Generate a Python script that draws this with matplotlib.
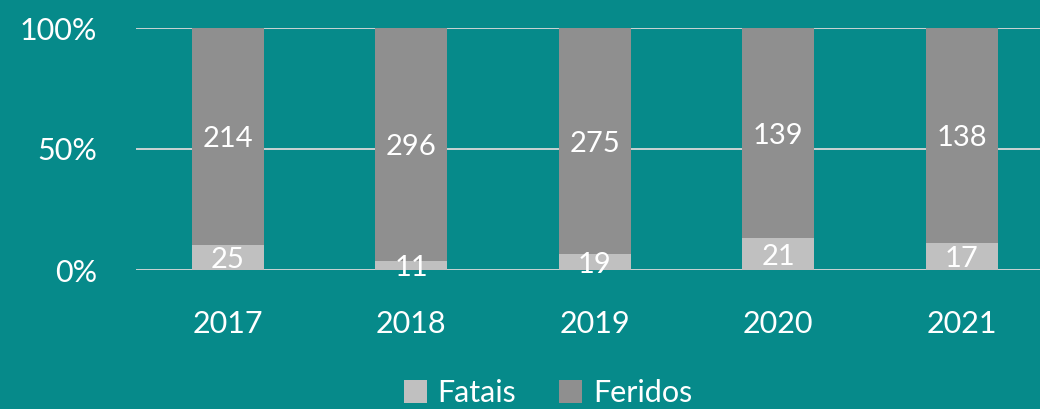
import matplotlib.pyplot as plt
import numpy as np

anos = ["2017", "2018", "2019", "2020", "2021"]
fatais = [25, 11, 19, 21, 17]
feridos = [214, 296, 275, 139, 138]

bg = "#068a8a"
cor_fatais = "#c0c0c0"
cor_feridos = "#8f8f8f"

plt.rcParams['font.family'] = ['Lato', 'DejaVu Sans']

fig = plt.figure(figsize=(10.4, 4.09), dpi=100)
fig.patch.set_facecolor(bg)
ax = fig.add_axes([136 / 1040, 1 - 270 / 409, 917.5 / 1040, 242 / 409])
ax.set_facecolor(bg)

x = np.arange(len(anos))
tot = np.array(fatais) + np.array(feridos)
p_fat = np.array(fatais) / tot * 100
p_fer = np.array(feridos) / tot * 100

w = 0.395
b1 = ax.bar(x, p_fat, w, color=cor_fatais, label="Fatais", zorder=3)
b2 = ax.bar(x, p_fer, w, bottom=p_fat, color=cor_feridos, label="Feridos", zorder=3)

for i in range(len(anos)):
    ax.text(x[i], p_fat[i] / 2, str(fatais[i]), ha="center", va="center_baseline",
            color="white", fontsize=21, zorder=4)
    ax.text(x[i], p_fat[i] + p_fer[i] / 2, str(feridos[i]), ha="center",
            va="center_baseline", color="white", fontsize=21, zorder=4)

ax.set_xlim(-0.5, len(anos) - 0.5)
ax.set_ylim(0, 100)
ax.set_yticks([0, 50, 100])
ax.set_yticklabels(["0%", "50%", "100%"])
ax.set_xticks(x)
ax.set_xticklabels(anos)
ax.tick_params(colors="white", labelsize=22, length=0)
ax.tick_params(axis="y", pad=28)
ax.tick_params(axis="x", pad=29)
ax.grid(axis="y", color="#d9d9d9", linewidth=1.3, zorder=1)
for s in ax.spines.values():
    s.set_visible(False)

leg = fig.legend(handles=[b1, b2], loc="center", bbox_to_anchor=(0.527, 1 - 393 / 409),
                 ncol=2, frameon=False, fontsize=22, labelcolor="white",
                 handlelength=0.75, handleheight=0.75, handletextpad=0.35,
                 columnspacing=1.4, borderpad=0)

fig.savefig("out.png", dpi=100, facecolor=bg)
